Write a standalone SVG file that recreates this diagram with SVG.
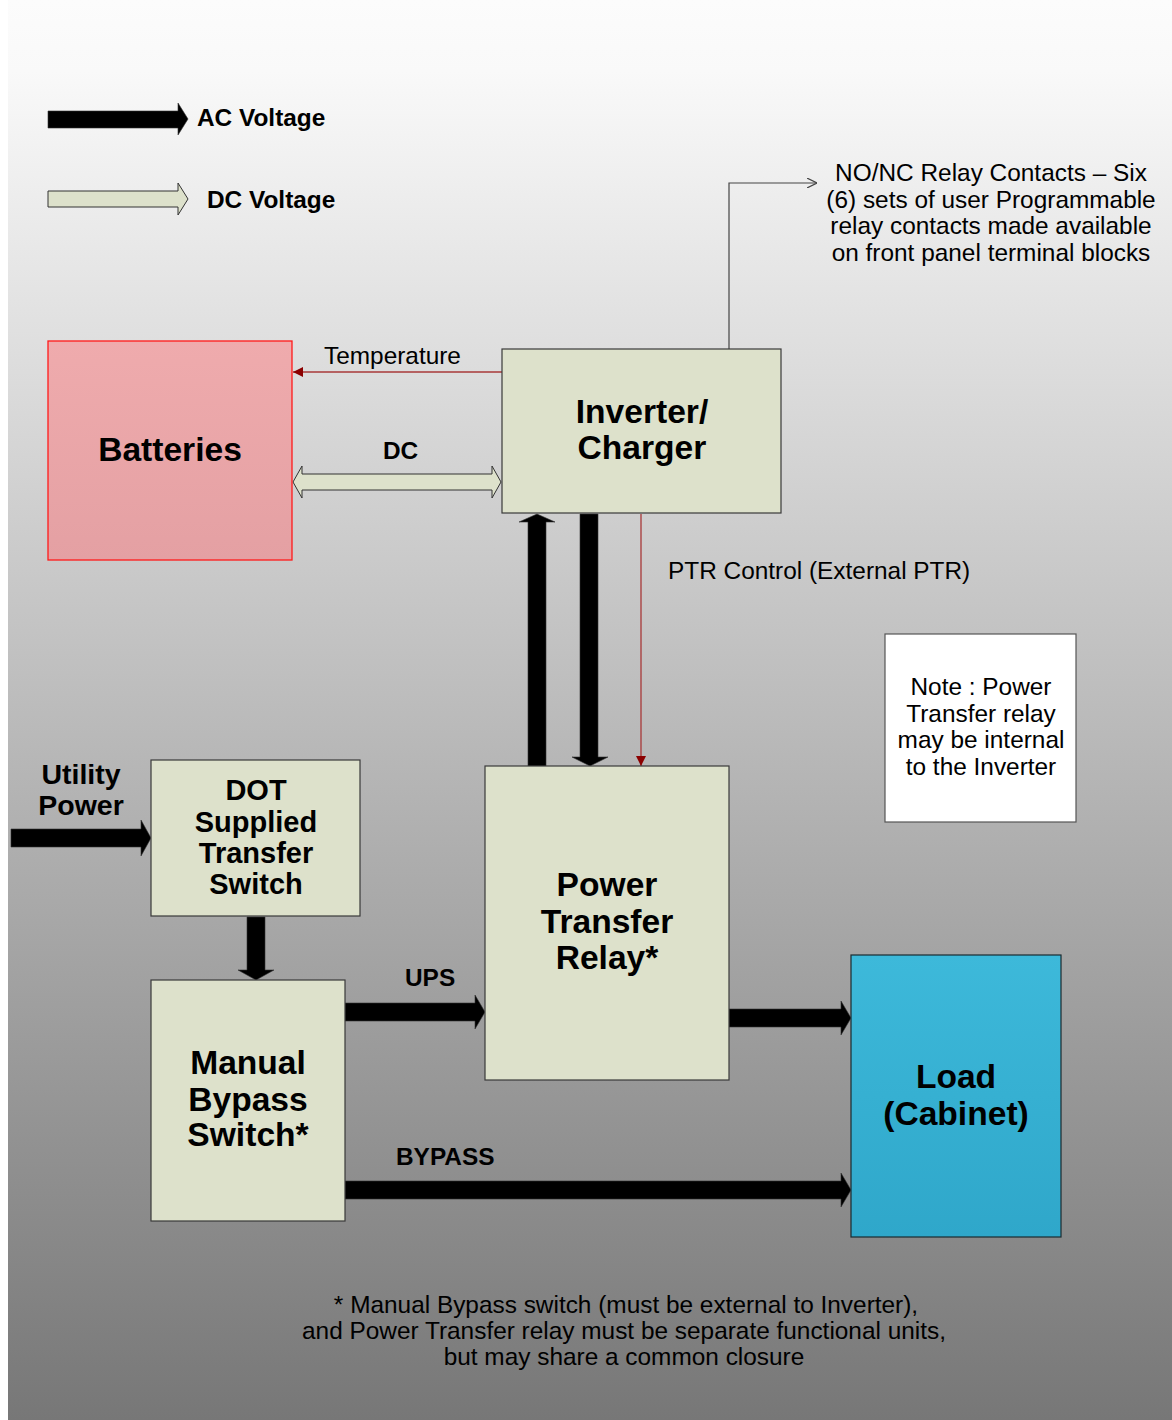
<svg xmlns="http://www.w3.org/2000/svg" width="1172" height="1420" viewBox="0 0 1172 1420">
  <defs>
    <linearGradient id="bg" x1="0" y1="0" x2="0" y2="1">
      <stop offset="0" stop-color="#fcfcfc"/>
      <stop offset="0.05" stop-color="#f9f9f9"/>
      <stop offset="1" stop-color="#777777"/>
    </linearGradient>
    <linearGradient id="pink" x1="0" y1="0" x2="0" y2="1">
      <stop offset="0" stop-color="#efabad"/>
      <stop offset="1" stop-color="#e4a0a3"/>
    </linearGradient>
    <linearGradient id="blue" x1="0" y1="0" x2="0" y2="1">
      <stop offset="0" stop-color="#3db9da"/>
      <stop offset="1" stop-color="#2fa7ca"/>
    </linearGradient>
    <marker id="redHead" viewBox="0 0 10 10" refX="10" refY="5" markerWidth="10" markerHeight="10" markerUnits="userSpaceOnUse" orient="auto">
      <path d="M0,0 L10,5 L0,10 Z" fill="#8b0000"/>
    </marker>
    <marker id="openHead" viewBox="0 0 10 10" refX="10" refY="5" markerWidth="10" markerHeight="10" markerUnits="userSpaceOnUse" orient="auto">
      <path d="M0,0 L10,5 L0,10" fill="none" stroke="#444" stroke-width="1.2"/>
    </marker>
  </defs>
  <style>
    .box { fill: #dde1cb; stroke: #3a3a3a; stroke-width: 1.2; }
    .ac { fill: #000; stroke: #333; stroke-width: 0.6; }
    .dc { fill: #dde1cb; stroke: #333; stroke-width: 1; }
    .t { font-family: "Liberation Sans", Arial, sans-serif; fill: #000; }
    .b { font-weight: bold; }
    .big { font-size: 33.6px; font-weight: bold; text-anchor: middle; }
    .lbl { font-size: 24.4px; }
    .mid { text-anchor: middle; }
  </style>

  <!-- page background -->
  <rect x="0" y="0" width="1172" height="1420" fill="#ffffff"/>
  <rect x="8" y="0" width="1164" height="1420" fill="url(#bg)"/>

  <!-- legend -->
  <g id="legend">
    <path class="ac" d="M48,111 H178 V103 L188,119 L178,135 V128 H48 Z"/>
    <text class="t b lbl" x="197" y="126">AC Voltage</text>
    <path class="dc" d="M48,191 H178 V183 L188,199 L178,215 V207 H48 Z"/>
    <text class="t b lbl" x="207" y="208">DC Voltage</text>
  </g>

  <!-- connectors -->
  <g id="connectors">
    <!-- temperature sense -->
    <line x1="502" y1="372" x2="293" y2="372" stroke="#a83838" stroke-width="1.3" marker-end="url(#redHead)"/>
    <text class="t lbl" x="324" y="364">Temperature</text>
    <!-- DC link -->
    <path class="dc" d="M293,482 L302,466 V474 H492 V466 L501,482 L492,498 V490 H302 V498 Z"/>
    <text class="t b lbl" x="383" y="459">DC</text>
    <!-- relay contacts -->
    <polyline points="729,349 729,183 817,183" fill="none" stroke="#444" stroke-width="1.2" marker-end="url(#openHead)"/>
    <!-- PTR -> inverter (up) -->
    <path class="ac" d="M528,766 V522 H519 L537,514 L555,522 H546 V766 Z"/>
    <!-- inverter -> PTR (down) -->
    <path class="ac" d="M580,514 V757 H572 L590,766 L608,757 H598 V514 Z"/>
    <!-- PTR control -->
    <line x1="641" y1="514" x2="641" y2="766" stroke="#a83838" stroke-width="1.3" marker-end="url(#redHead)"/>
    <text class="t lbl" x="668" y="579">PTR Control (External PTR)</text>
    <!-- utility power in -->
    <path class="ac" d="M11,829 H141 V820 L151,838 L141,856 V847 H11 Z"/>
    <!-- DOT -> manual bypass -->
    <path class="ac" d="M247,917 V970 H238 L256,980 L274,970 H265 V917 Z"/>
    <!-- UPS -->
    <path class="ac" d="M345,1003 H475 V995 L485,1012 L475,1029 V1021 H345 Z"/>
    <text class="t b lbl" x="405" y="986">UPS</text>
    <!-- PTR -> load -->
    <path class="ac" d="M729,1009 H841 V1001 L851,1018 L841,1035 V1027 H729 Z"/>
    <!-- bypass -->
    <path class="ac" d="M345,1181 H841 V1173 L851,1190 L841,1207 V1199 H345 Z"/>
    <text class="t b lbl" x="396" y="1165">BYPASS</text>
  </g>

  <!-- nodes -->
  <g id="batteries">
    <rect x="48" y="341" width="244" height="219" fill="url(#pink)" stroke="#ff1a1a" stroke-width="1.3"/>
    <text class="t big" x="170" y="461">Batteries</text>
  </g>

  <g id="inverter">
    <rect class="box" x="502" y="349" width="279" height="164"/>
    <text class="t big" x="642" y="423">Inverter/</text>
    <text class="t big" x="642" y="459">Charger</text>
  </g>

  <g id="relay-contacts">
    <text class="t lbl mid" x="991" y="181">NO/NC Relay Contacts – Six</text>
    <text class="t lbl mid" x="991" y="208">(6) sets of user Programmable</text>
    <text class="t lbl mid" x="991" y="234">relay contacts made available</text>
    <text class="t lbl mid" x="991" y="261">on front panel terminal blocks</text>
  </g>

  <g id="note">
    <rect x="885" y="634" width="191" height="188" fill="#ffffff" stroke="#555" stroke-width="1.2"/>
    <text class="t lbl mid" x="981" y="695">Note : Power</text>
    <text class="t lbl mid" x="981" y="722">Transfer relay</text>
    <text class="t lbl mid" x="981" y="748">may be internal</text>
    <text class="t lbl mid" x="981" y="775">to the Inverter</text>
  </g>

  <g id="utility">
    <text class="t b mid" font-size="28.5" x="81" y="784">Utility</text>
    <text class="t b mid" font-size="28.5" x="81" y="815">Power</text>
  </g>

  <g id="dot-switch">
    <rect class="box" x="151" y="760" width="209" height="156"/>
    <text class="t b mid" font-size="29" x="256" y="800">DOT</text>
    <text class="t b mid" font-size="29" x="256" y="832">Supplied</text>
    <text class="t b mid" font-size="29" x="256" y="863">Transfer</text>
    <text class="t b mid" font-size="29" x="256" y="894">Switch</text>
  </g>

  <g id="ptr">
    <rect class="box" x="485" y="766" width="244" height="314"/>
    <text class="t big" x="607" y="896">Power</text>
    <text class="t big" x="607" y="933">Transfer</text>
    <text class="t big" x="607" y="969">Relay*</text>
  </g>

  <g id="manual-bypass">
    <rect class="box" x="151" y="980" width="194" height="241"/>
    <text class="t big" x="248" y="1074">Manual</text>
    <text class="t big" x="248" y="1111">Bypass</text>
    <text class="t big" x="248" y="1146">Switch*</text>
  </g>

  <g id="load">
    <rect x="851" y="955" width="210" height="282" fill="url(#blue)" stroke="#1a2a30" stroke-width="1.2"/>
    <text class="t big" x="956" y="1088">Load</text>
    <text class="t big" x="956" y="1125">(Cabinet)</text>
  </g>

  <g id="footnote">
    <text class="t lbl mid" x="626" y="1313">* Manual Bypass switch (must be external to Inverter),</text>
    <text class="t lbl mid" x="624" y="1339">and Power Transfer relay must be separate functional units,</text>
    <text class="t lbl mid" x="624" y="1365">but may share a common closure</text>
  </g>
</svg>
